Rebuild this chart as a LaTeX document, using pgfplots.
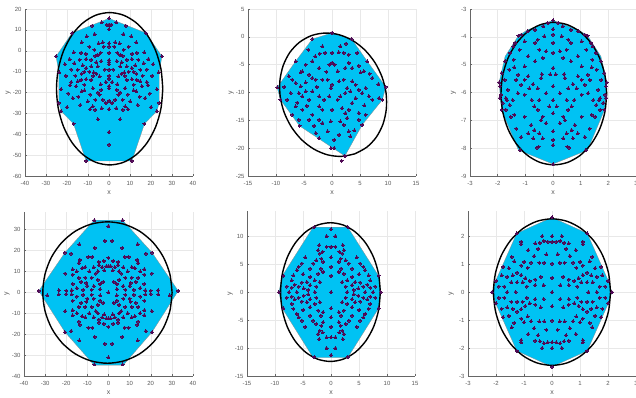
\documentclass[border=0pt]{standalone}
\usepackage{pgfplots}
\pgfplotsset{compat=1.18}
\usepackage{fontspec}
\setmainfont{Liberation Sans}
\definecolor{cyanf}{RGB}{0,194,243}
\definecolor{dotc}{RGB}{80,10,85}
\pgfplotsset{
 panel/.style={
  scale only axis, axis lines*=left, tick align=inside, major tick length=2bp,
  grid=major, grid style={draw=black!9, line width=0.4pt},
  axis line style={draw=black!60, line width=0.6pt},
  tick style={draw=black!60, line width=0.4pt},
  tick label style={font=\fontsize{6}{7}\selectfont, text=black!65},
  xticklabel style={yshift=-1.5bp},
  /pgf/number format/assume math mode=true,
  label style={font=\fontsize{7}{8}\selectfont, text=black!65},
  xlabel={x}, ylabel={y},
  xlabel style={at={(axis description cs:0.5,-0.1)}, anchor=center},
  ylabel style={at={(axis description cs:-0.1,0.5)}, anchor=center},
  anchor=south west,
 },
 hull/.style={fill=cyanf, draw=black!45, line width=0.3pt},
 pts/.style={only marks, mark=*, mark size=1.5bp, mark options={fill=dotc, draw=dotc, line width=0pt}},
 ell/.style={black, line width=1.4bp, smooth, mark=none},
}
\begin{document}
\begin{tikzpicture}
\path[use as bounding box] (0,0) rectangle (636bp,398bp);
% ---------------- panel 1
\begin{axis}[panel, at={(25bp,222bp)}, width=168bp, height=167bp,
 xmin=-40, xmax=40, ymin=-60, ymax=20, xtick={-40,-30,...,40}, ytick={-60,-50,...,20}]
\addplot[hull] coordinates {(0,15.5)(17.6,8.5)(25.2,-2.7)(23.9,-10.4)(23.9,-25)(22.8,-29)(16.9,-35)(10.9,-52.8)(-10.9,-52.8)(-16.9,-35)(-22.8,-29)(-23.9,-25)(-23.9,-10.4)(-25.2,-2.7)(-17.6,8.5)(0,15.5)};
\addplot[ell] coordinates {(25.6,-18.2)(24.74,-8.75)(22.21,0.05)(18.19,7.61)(12.95,13.41)(6.85,17.06)(0.3,18.3)(-6.25,17.06)(-12.35,13.41)(-17.59,7.61)(-21.61,0.05)(-24.14,-8.75)(-25.0,-18.2)(-24.14,-27.65)(-21.61,-36.45)(-17.59,-44.01)(-12.35,-49.81)(-6.25,-53.46)(0.3,-54.7)(6.85,-53.46)(12.95,-49.81)(18.19,-44.01)(22.21,-36.45)(24.74,-27.65)(25.6,-18.2)};
\addplot[pts] coordinates {(0,15.5)(0,12.5)(0,10.2)(0,3.5)(0,2)(0,-1)(0,-4.5)(0,-5.5)(0,-6.5)(0,-9)(0,-12)(0,-13.5)(0,-17)(0,-18)(0,-24)(0,-28)(0,-39)(0,-45)
(3.4,13.6)(1,12.5)(17.6,8.5)(25.2,-2.7)(6.9,8)(10.6,6.9)(8,12)(3,4)(5,3.5)(2.5,2)(9.3,2)(7,0.5)(13,4)(11,-1.5)(13.3,-1)(16.8,-0.8)(4,-1)(5.3,-2)(6.5,-2.5)(8.5,-4.3)(10.9,-4)(14,-4.3)(18.8,-4)(3.7,-5)(6,-5.5)(16.5,-6)(21,-6.5)(5.3,-7.5)(8.5,-7.5)(12.5,-7)(10.9,-8.3)(2,-9)(14.9,-9.1)(18,-9)(9.3,-10)(11.7,-10)(7.2,-10.4)(13,-11)(6,-11)(23.6,-10.4)(7.5,-12)(16,-12)(20.5,-12)(4.5,-12.3)(8.5,-14)(10.9,-13.6)(13.3,-14)(14.9,-14.7)(18,-15)(1.5,-15)(4,-16)(11.7,-16.3)(15.7,-17)(18.5,-16.5)(3.7,-18.7)(7.7,-18)(5.3,-20)(4.5,-21)(9,-21)(11.7,-19)(13,-19.5)(22.8,-18.4)(19.5,-20.5)(14.6,-22)(17.3,-22.7)(2.9,-23.5)(6.5,-23.5)(1.5,-25)(10.1,-24.3)(13.6,-26)(7.7,-26.7)(3.5,-27.5)(20,-27)(6.6,-28.3)(9,-28)(23.9,-25)(22.8,-29)(5.3,-32.8)(16.9,-35)(10.9,-52.8)
(-3.4,13.6)(-1,12.5)(-17.6,8.5)(-25.2,-2.7)(-6.9,8)(-10.6,6.9)(-8,12)(-3,4)(-5,3.5)(-2.5,2)(-9.3,2)(-7,0.5)(-13,4)(-11,-1.5)(-13.3,-1)(-16.8,-0.8)(-4,-1)(-5.3,-2)(-6.5,-2.5)(-8.5,-4.3)(-10.9,-4)(-14,-4.3)(-18.8,-4)(-3.7,-5)(-6,-5.5)(-16.5,-6)(-21,-6.5)(-5.3,-7.5)(-8.5,-7.5)(-12.5,-7)(-10.9,-8.3)(-2,-9)(-14.9,-9.1)(-18,-9)(-9.3,-10)(-11.7,-10)(-7.2,-10.4)(-13,-11)(-6,-11)(-23.6,-10.4)(-7.5,-12)(-16,-12)(-20.5,-12)(-4.5,-12.3)(-8.5,-14)(-10.9,-13.6)(-13.3,-14)(-14.9,-14.7)(-18,-15)(-1.5,-15)(-4,-16)(-11.7,-16.3)(-15.7,-17)(-18.5,-16.5)(-3.7,-18.7)(-7.7,-18)(-5.3,-20)(-4.5,-21)(-9,-21)(-11.7,-19)(-13,-19.5)(-22.8,-18.4)(-19.5,-20.5)(-14.6,-22)(-17.3,-22.7)(-2.9,-23.5)(-6.5,-23.5)(-1.5,-25)(-10.1,-24.3)(-13.6,-26)(-7.7,-26.7)(-3.5,-27.5)(-20,-27)(-6.6,-28.3)(-9,-28)(-23.9,-25)(-22.8,-29)(-5.3,-32.8)(-16.9,-35)(-10.9,-52.8)};
\end{axis}
% ---------------- panel 2
\begin{axis}[panel, at={(248bp,222bp)}, width=168bp, height=167bp,
 xmin=-15, xmax=15, ymin=-25, ymax=5, xtick={-15,-10,...,15}, ytick={-25,-20,...,5}]
\addplot[hull] coordinates {(0,0.7)(3.5,-0.4)(6.3,-4.4)(9.6,-9)(9,-11.3)(5.4,-15.8)(2.3,-21.4)(-5.8,-16)(-9.2,-11.3)(-9.8,-9.1)(-6.5,-4.4)(-3.5,-0.4)(0,0.7)};
\addplot[ell] coordinates {(4.07,-21.02)(6.20,-19.84)(7.92,-18.01)(9.11,-15.66)(9.70,-12.96)(9.65,-10.08)(8.94,-7.22)(7.64,-4.58)(5.84,-2.34)(3.65,-0.64)(1.22,0.39)(-1.27,0.68)(-3.67,0.22)(-5.80,-0.97)(-7.52,-2.79)(-8.71,-5.14)(-9.30,-7.85)(-9.25,-10.72)(-8.54,-13.58)(-7.24,-16.22)(-5.44,-18.47)(-3.25,-20.16)(-0.82,-21.19)(1.67,-21.48)(4.07,-21.02)};
\addplot[pts] coordinates {(0,0.7)(3.5,-0.4)(-3.5,-0.4)(-1.7,-1.7)(-1.25,-2.9)(-2.2,-3)(1.5,-1.7)(2.1,-2.9)(1.2,-2.8)(0,-2.9)(0,-4.7)(-0.5,-5)(0.5,-5)(4.5,-2.9)(6.3,-4.4)(-3.5,-4.4)(-4.7,-5)(-6.5,-4.4)(-2.3,-5.6)(2.4,-5.6)(3,-4.7)(3.6,-5.6)(4.8,-5.2)(-5.3,-6.2)(-5.6,-6.4)(-4.1,-6.8)(-3.5,-7.4)(-2.9,-7.7)(-1.7,-7.7)(-0.8,-7.7)(0,-8.6)(-0.2,-9.2)(1.25,-8)(2.1,-7.7)(3.6,-8)(4.2,-8.6)(5.1,-6.4)(5.7,-6.2)(7.2,-7.4)(-7.7,-7.1)(-7.1,-7.7)(-6.5,-8.3)(-5.6,-8.9)(-4.7,-8.2)(-5.9,-10.1)(-5.3,-10.7)(-4.7,-9.8)(-4.1,-11.3)(-7.4,-10.1)(-8,-11.3)(-3.5,-9.8)(-2.3,-10.7)(-1.4,-11.3)(-0.5,-10.7)(1,-11.3)(1.5,-10.7)(2.4,-10.1)(3.3,-9.8)(4.8,-9.5)(5.4,-10.1)(6,-9.2)(6.6,-10.7)(7.2,-11.3)(8.4,-11)(9.6,-9)(9,-11.3)(4.2,-11)(3.6,-11.9)(-6.5,-12.5)(-5.3,-13.1)(-2.3,-12.5)(-1.7,-13.1)(0,-13.1)(1.8,-12.8)(2.4,-13.7)(3,-13.1)(4.8,-13.7)(6,-14)(-7.1,-14)(-5.9,-14.9)(-3.5,-14)(-4.1,-14.9)(-2.3,-14.9)(-1.7,-15.5)(-0.2,-15.2)(1.5,-15.2)(2.1,-15.8)(2.7,-14.6)(4.8,-14.9)(5.4,-15.8)(-5.8,-16)(-2.9,-17.3)(-2.3,-18.2)(-0.8,-17)(0.4,-18.5)(1.25,-17.6)(3,-17)(3.3,-17.9)(-0.2,-20)(0.4,-20)(2.3,-21.4)(1.7,-22.3)(-9.8,-9.1)(-9.2,-11.3)(-3,-3.5)(3,-3.2)(6.7,-6.6)(8.3,-8.5)(-8.5,-9)(-6.2,-11.8)(5.8,-12.3)(-1,-6.3)(1,-6.2)(-2.7,-9)(2.7,-9.2)(-4.5,-12.4)(-3.2,-16)(4,-16.8)(-4.2,-2.3)(2.5,-1.2)};
\end{axis}
% ---------------- panel 3
\begin{axis}[panel, at={(470bp,222bp)}, width=166bp, height=167bp,
 xmin=-3, xmax=3, ymin=-9, ymax=-3, xtick={-3,...,3}, ytick={-9,...,-3}]
\addplot[hull] coordinates {(0,-3.41)(0.92,-3.75)(1.25,-3.96)(1.73,-4.7)(1.95,-5.64)(1.86,-6.63)(1.25,-8.07)(0,-8.57)(-1.25,-8.07)(-1.86,-6.63)(-1.95,-5.64)(-1.73,-4.7)(-1.25,-3.96)(-0.92,-3.75)(0,-3.41)};
\addplot[ell] coordinates {(1.94,-6.04)(1.875,-5.377)(1.684,-4.76)(1.38,-4.23)(0.985,-3.823)(0.525,-3.567)(0.03,-3.48)(-0.465,-3.567)(-0.925,-3.823)(-1.32,-4.23)(-1.624,-4.76)(-1.815,-5.377)(-1.88,-6.04)(-1.815,-6.703)(-1.624,-7.32)(-1.32,-7.85)(-0.925,-8.257)(-0.465,-8.513)(0.03,-8.6)(0.525,-8.513)(0.985,-8.257)(1.38,-7.85)(1.684,-7.32)(1.875,-6.703)(1.94,-6.04)};
\addplot[pts] coordinates {(0,-3.41)(0,-3.72)(0,-3.92)(0,-4.22)(0,-4.58)(0,-5.12)(0,-5.78)(0,-6.27)(0,-6.75)(0,-7.4)(0,-7.7)(0,-7.89)(0,-8.57)
(0.19,-3.5)(0.35,-3.62)(0.65,-3.75)(0.92,-3.8)(1.25,-3.96)(1.43,-4.34)(1.73,-4.88)(1.86,-5.3)(1.92,-5.78)(1.92,-6.2)(1.86,-6.62)(1.67,-6.27)(0.9,-4.7)(0.65,-4.88)(0.37,-4.76)(1.03,-5.06)(1.4,-5.1)(1.26,-5.36)(1.03,-5.55)(0.72,-5.7)(0.85,-5.85)(0.41,-5.34)(0.49,-6.27)(0.67,-6.5)(0.37,-6.87)(0.25,-7.1)(0.79,-7.17)(0.9,-7.47)(0.72,-7.65)(0.49,-7.47)(0.37,-7.65)(0.52,-7.95)(1.4,-6.8)(1.57,-6.45)(1.7,-6.2)(1.33,-7.3)(1.15,-7.6)(1.18,-8.07)(1.63,-5.9)(1.75,-5.55)(1.58,-5.18)(1.42,-4.82)(1.21,-4.46)(1.03,-4.16)(0.65,-4.22)(0.49,-4.46)(0.25,-4.52)(0.31,-3.98)(0.55,-4.1)(1.15,-3.92)(1.37,-4.22)(1.54,-4.58)(1.88,-6.08)(1.82,-6.38)(1.7,-6.62)(1.52,-6.87)(1.46,-6.27)(1.27,-6.03)(1.03,-6.08)(1.15,-5.72)(1.33,-5.55)(0.9,-5.42)(0.55,-5.85)(0.43,-5.48)(0.25,-6.03)(0.13,-6.5)(0.43,-7.0)(0.67,-7.35)(1.03,-6.87)(0.55,-6.62)(0.77,-6.27)(1.95,-5.64)(0.1,-5.35)(0.58,-7.98)
(-0.19,-3.5)(-0.35,-3.62)(-0.65,-3.75)(-0.92,-3.8)(-1.25,-3.96)(-1.43,-4.34)(-1.73,-4.88)(-1.86,-5.3)(-1.92,-5.78)(-1.92,-6.2)(-1.86,-6.62)(-1.67,-6.27)(-0.9,-4.7)(-0.65,-4.88)(-0.37,-4.76)(-1.03,-5.06)(-1.4,-5.1)(-1.26,-5.36)(-1.03,-5.55)(-0.72,-5.7)(-0.85,-5.85)(-0.41,-5.34)(-0.49,-6.27)(-0.67,-6.5)(-0.37,-6.87)(-0.25,-7.1)(-0.79,-7.17)(-0.9,-7.47)(-0.72,-7.65)(-0.49,-7.47)(-0.37,-7.65)(-0.52,-7.95)(-1.4,-6.8)(-1.57,-6.45)(-1.7,-6.2)(-1.33,-7.3)(-1.15,-7.6)(-1.18,-8.07)(-1.63,-5.9)(-1.75,-5.55)(-1.58,-5.18)(-1.42,-4.82)(-1.21,-4.46)(-1.03,-4.16)(-0.65,-4.22)(-0.49,-4.46)(-0.25,-4.52)(-0.31,-3.98)(-0.55,-4.1)(-1.15,-3.92)(-1.37,-4.22)(-1.54,-4.58)(-1.88,-6.08)(-1.82,-6.38)(-1.7,-6.62)(-1.52,-6.87)(-1.46,-6.27)(-1.27,-6.03)(-1.03,-6.08)(-1.15,-5.72)(-1.33,-5.55)(-0.9,-5.42)(-0.55,-5.85)(-0.43,-5.48)(-0.25,-6.03)(-0.13,-6.5)(-0.43,-7.0)(-0.67,-7.35)(-1.03,-6.87)(-0.55,-6.62)(-0.77,-6.27)(-1.95,-5.64)(-0.1,-5.35)(-0.58,-7.98)};
\end{axis}
% ---------------- panel 4
\begin{axis}[panel, at={(24bp,22bp)}, width=169bp, height=164bp,
 xmin=-40, xmax=40, ymin=-40, ymax=38.4, xtick={-40,-30,...,40}, ytick={-40,-30,...,30}]
\addplot[hull] coordinates {(-6.8,34.5)(6.7,34.5)(20.6,19)(33,0.7)(20.6,-19)(7,-34.8)(-6.8,-34.8)(-20.6,-19)(-33,0.7)(-20.6,19)(-6.8,34.5)};
\addplot[ell] coordinates {(30.1,-0.1)(29.06,8.65)(26.0,16.8)(21.13,23.8)(14.8,29.17)(7.43,32.55)(-0.5,33.7)(-8.43,32.55)(-15.8,29.17)(-22.13,23.8)(-27.0,16.8)(-30.06,8.65)(-31.1,-0.1)(-30.06,-8.85)(-27.0,-17.0)(-22.13,-24.0)(-15.8,-29.37)(-8.43,-32.75)(-0.5,-33.9)(7.43,-32.75)(14.8,-29.37)(21.13,-24.0)(26.0,-17.0)(29.06,-8.85)(30.1,-0.1)};
\addplot[pts] coordinates {(0,31.7)(0,-31.1)(0,16.5)(0,-16.5)(0,0)(0,12.5)(0,-12.5)(33,0.7)(-33,0.7)(29,-1.5)(-29,-1.5)
(6.7,34.5)(1.7,24.6)(6.5,21.3)(13.8,23)(20.6,19)(17.7,18.5)(7.6,16.9)(9.5,16.9)(4.5,14.5)(2.2,15)(13.5,15.5)(14,14)(17,11)(17,8.5)(20.5,9)(23.5,1)(4,4)(5,6)(8,7)(11,7)(13,5)(15,2)(10,3)(12,1.2)(8,1.2)(7,3)(17,4)(17.5,1)(20,0.8)(5,10)(3,12)(7,12)(9,10)(6,9)(4,1.5)(2.5,5)(11,12)(12.5,11.5)(15,10)(2,10.5)(1,12.5)(4.5,13)(10.5,4.5)(14,7)
(-6.7,34.5)(-1.7,24.6)(-6.5,21.3)(-13.8,23)(-20.6,19)(-17.7,18.5)(-7.6,16.9)(-9.5,16.9)(-4.5,14.5)(-2.2,15)(-13.5,15.5)(-14,14)(-17,11)(-17,8.5)(-20.5,9)(-23.5,1)(-4,4)(-5,6)(-8,7)(-11,7)(-13,5)(-15,2)(-10,3)(-12,1.2)(-8,1.2)(-7,3)(-17,4)(-17.5,1)(-20,0.8)(-5,10)(-3,12)(-7,12)(-9,10)(-6,9)(-4,1.5)(-2.5,5)(-11,12)(-12.5,11.5)(-15,10)(-2,10.5)(-1,12.5)(-4.5,13)(-10.5,4.5)(-14,7)
(6.7,-34.5)(1.7,-24.6)(6.5,-21.3)(13.8,-23)(20.6,-19)(17.7,-18.5)(7.6,-16.9)(9.5,-16.9)(4.5,-14.5)(2.2,-15)(13.5,-15.5)(14,-14)(17,-11)(17,-8.5)(20.5,-9)(23.5,-1)(4,-4)(5,-6)(8,-7)(11,-7)(13,-5)(15,-2)(10,-3)(12,-1.2)(8,-1.2)(7,-3)(17,-4)(17.5,-1)(20,-0.8)(5,-10)(3,-12)(7,-12)(9,-10)(6,-9)(4,-1.5)(2.5,-5)(11,-12)(12.5,-11.5)(15,-10)(2,-10.5)(1,-12.5)(4.5,-13)(10.5,-4.5)(14,-7)
(-6.7,-34.5)(-1.7,-24.6)(-6.5,-21.3)(-13.8,-23)(-20.6,-19)(-17.7,-18.5)(-7.6,-16.9)(-9.5,-16.9)(-4.5,-14.5)(-2.2,-15)(-13.5,-15.5)(-14,-14)(-17,-11)(-17,-8.5)(-20.5,-9)(-23.5,-1)(-4,-4)(-5,-6)(-8,-7)(-11,-7)(-13,-5)(-15,-2)(-10,-3)(-12,-1.2)(-8,-1.2)(-7,-3)(-17,-4)(-17.5,-1)(-20,-0.8)(-5,-10)(-3,-12)(-7,-12)(-9,-10)(-6,-9)(-4,-1.5)(-2.5,-5)(-11,-12)(-12.5,-11.5)(-15,-10)(-2,-10.5)(-1,-12.5)(-4.5,-13)(-10.5,-4.5)(-14,-7)};
\end{axis}
% ---------------- panel 5
\begin{axis}[panel, at={(247bp,22bp)}, width=168bp, height=165bp,
 xmin=-15, xmax=15, ymin=-15, ymax=14.5, xtick={-15,-10,...,15}, ytick={-15,-10,...,10}]
\addplot[hull] coordinates {(-3.2,11.6)(3,11.6)(8.5,2.9)(8.9,0)(8.5,-2.9)(3,-11.7)(-3.2,-11.7)(-8.7,-2.9)(-9.3,0)(-8.7,2.9)(-3.2,11.6)};
\addplot[ell] coordinates {(8.8,0)(8.5,3.21)(7.61,6.2)(6.19,8.77)(4.35,10.74)(2.21,11.98)(-0.1,12.4)(-2.41,11.98)(-4.55,10.74)(-6.39,8.77)(-7.81,6.2)(-8.7,3.21)(-9.0,0)(-8.7,-3.21)(-7.81,-6.2)(-6.39,-8.77)(-4.55,-10.74)(-2.41,-11.98)(-0.1,-12.4)(2.21,-11.98)(4.35,-10.74)(6.19,-8.77)(7.61,-6.2)(8.5,-3.21)(8.8,0)};
\addplot[pts] coordinates {(0,11.25)(0,-11.25)(0,8.1)(0,-8.1)(0,6.2)(0,-6.2)(0,4.5)(0,-4.5)(0,2.9)(0,-2.9)(0,0)(8.9,0)(-9.3,0)(7.5,0)(-7.5,0)(6.1,0)(-6.1,0)(2.9,0)(-2.9,0)
(0.8,10)(2,6.9)(2.3,7.5)(2.1,8.4)(1.7,6)(1.4,5.4)(2.6,5.7)(3.2,5.1)(1.8,4.2)(4.6,6.2)(5.8,4.5)(6.1,3.9)(5.2,5.1)(3.75,4.2)(7,2.1)(6.7,3)(8.5,2.9)(3.75,2.7)(2.9,2.1)(3.75,1.25)(4.3,1.8)(5.2,1.7)(5.8,1)(4.9,0.65)(4.05,0.4)(7,0.8)(7.9,1)(2,1.8)(2.6,1)(0.8,8.1)(1.4,3.6)(2.3,3.3)(3,11.6)(1.5,7.2)(6.5,1.3)(5,3.2)
(-0.8,10)(-2,6.9)(-2.3,7.5)(-2.1,8.4)(-1.7,6)(-1.4,5.4)(-2.6,5.7)(-3.2,5.1)(-1.8,4.2)(-4.6,6.2)(-5.8,4.5)(-6.1,3.9)(-5.2,5.1)(-3.75,4.2)(-7,2.1)(-6.7,3)(-8.5,2.9)(-3.75,2.7)(-2.9,2.1)(-3.75,1.25)(-4.3,1.8)(-5.2,1.7)(-5.8,1)(-4.9,0.65)(-4.05,0.4)(-7,0.8)(-7.9,1)(-2,1.8)(-2.6,1)(-0.8,8.1)(-1.4,3.6)(-2.3,3.3)(-3,11.6)(-1.5,7.2)(-6.5,1.3)(-5,3.2)
(0.8,-10)(2,-6.9)(2.3,-7.5)(2.1,-8.4)(1.7,-6)(1.4,-5.4)(2.6,-5.7)(3.2,-5.1)(1.8,-4.2)(4.6,-6.2)(5.8,-4.5)(6.1,-3.9)(5.2,-5.1)(3.75,-4.2)(7,-2.1)(6.7,-3)(8.5,-2.9)(3.75,-2.7)(2.9,-2.1)(3.75,-1.25)(4.3,-1.8)(5.2,-1.7)(5.8,-1)(4.9,-0.65)(4.05,-0.4)(7,-0.8)(7.9,-1)(2,-1.8)(2.6,-1)(0.8,-8.1)(1.4,-3.6)(2.3,-3.3)(3,-11.6)(1.5,-7.2)(6.5,-1.3)(5,-3.2)
(-0.8,-10)(-2,-6.9)(-2.3,-7.5)(-2.1,-8.4)(-1.7,-6)(-1.4,-5.4)(-2.6,-5.7)(-3.2,-5.1)(-1.8,-4.2)(-4.6,-6.2)(-5.8,-4.5)(-6.1,-3.9)(-5.2,-5.1)(-3.75,-4.2)(-7,-2.1)(-6.7,-3)(-8.5,-2.9)(-3.75,-2.7)(-2.9,-2.1)(-3.75,-1.25)(-4.3,-1.8)(-5.2,-1.7)(-5.8,-1)(-4.9,-0.65)(-4.05,-0.4)(-7,-0.8)(-7.9,-1)(-2,-1.8)(-2.6,-1)(-0.8,-8.1)(-1.4,-3.6)(-2.3,-3.3)(-3,-11.6)(-1.5,-7.2)(-6.5,-1.3)(-5,-3.2)};
\end{axis}
% ---------------- panel 6
\begin{axis}[panel, at={(468bp,22bp)}, width=168bp, height=165bp,
 xmin=-3, xmax=3, ymin=-3, ymax=2.9, xtick={-3,...,3}, ytick={-3,...,2}]
\addplot[hull] coordinates {(0,2.67)(1.26,2.1)(2,0.43)(2.14,0)(2,-0.43)(1.26,-2.1)(0,-2.67)(-1.26,-2.1)(-2,-0.43)(-2.14,0)(-2,0.43)(-1.26,2.1)(0,2.67)};
\addplot[ell] coordinates {(2.09,0)(2.019,0.678)(1.81,1.31)(1.478,1.852)(1.045,2.269)(0.541,2.531)(0,2.62)(-0.541,2.531)(-1.045,2.269)(-1.478,1.852)(-1.81,1.31)(-2.019,0.678)(-2.09,0)(-2.019,-0.678)(-1.81,-1.31)(-1.478,-1.852)(-1.045,-2.269)(-0.541,-2.531)(0,-2.62)(0.541,-2.531)(1.045,-2.269)(1.478,-1.852)(1.81,-1.31)(2.019,-0.678)(2.09,0)};
\addplot[pts] coordinates {(0,2.67)(0,-2.67)(0,2.0)(0,-2.0)(0,1.8)(0,-1.8)(0,1.02)(0,-1.02)(0,0.51)(0,-0.51)(0,0)(2.14,0)(-2.14,0)(1.6,0)(-1.6,0)(1.3,0)(-1.3,0)
(1.26,2.1)(0.35,2.0)(0.29,1.83)(0.43,1.76)(0.6,1.74)(1.1,1.8)(1.1,1.72)(0.85,1.5)(0.64,1.29)(0.45,1.05)(0.28,1.05)(1.0,1.08)(1.1,0.95)(0.87,0.87)(1.44,1.26)(1.35,1.1)(1.54,0.85)(1.75,0.9)(1.8,0.6)(1.6,0.55)(1.4,0.6)(1.25,0.7)(1.1,0.61)(0.95,0.5)(0.8,0.4)(0.6,0.45)(0.4,0.55)(0.3,0.25)(0.6,0.25)(0.9,0.2)(1.05,0.35)(1.25,0.35)(1.45,0.35)(1.7,0.2)(1.9,0.2)(2.0,0.4)(0.2,1.35)(0.5,1.55)(0.15,1.8)(0.75,1.05)
(-1.26,2.1)(-0.35,2.0)(-0.29,1.83)(-0.43,1.76)(-0.6,1.74)(-1.1,1.8)(-1.1,1.72)(-0.85,1.5)(-0.64,1.29)(-0.45,1.05)(-0.28,1.05)(-1.0,1.08)(-1.1,0.95)(-0.87,0.87)(-1.44,1.26)(-1.35,1.1)(-1.54,0.85)(-1.75,0.9)(-1.8,0.6)(-1.6,0.55)(-1.4,0.6)(-1.25,0.7)(-1.1,0.61)(-0.95,0.5)(-0.8,0.4)(-0.6,0.45)(-0.4,0.55)(-0.3,0.25)(-0.6,0.25)(-0.9,0.2)(-1.05,0.35)(-1.25,0.35)(-1.45,0.35)(-1.7,0.2)(-1.9,0.2)(-2.0,0.4)(-0.2,1.35)(-0.5,1.55)(-0.15,1.8)(-0.75,1.05)
(1.26,-2.1)(0.35,-2.0)(0.29,-1.83)(0.43,-1.76)(0.6,-1.74)(1.1,-1.8)(1.1,-1.72)(0.85,-1.5)(0.64,-1.29)(0.45,-1.05)(0.28,-1.05)(1.0,-1.08)(1.1,-0.95)(0.87,-0.87)(1.44,-1.26)(1.35,-1.1)(1.54,-0.85)(1.75,-0.9)(1.8,-0.6)(1.6,-0.55)(1.4,-0.6)(1.25,-0.7)(1.1,-0.61)(0.95,-0.5)(0.8,-0.4)(0.6,-0.45)(0.4,-0.55)(0.3,-0.25)(0.6,-0.25)(0.9,-0.2)(1.05,-0.35)(1.25,-0.35)(1.45,-0.35)(1.7,-0.2)(1.9,-0.2)(2.0,-0.4)(0.2,-1.35)(0.5,-1.55)(0.15,-1.8)(0.75,-1.05)
(-1.26,-2.1)(-0.35,-2.0)(-0.29,-1.83)(-0.43,-1.76)(-0.6,-1.74)(-1.1,-1.8)(-1.1,-1.72)(-0.85,-1.5)(-0.64,-1.29)(-0.45,-1.05)(-0.28,-1.05)(-1.0,-1.08)(-1.1,-0.95)(-0.87,-0.87)(-1.44,-1.26)(-1.35,-1.1)(-1.54,-0.85)(-1.75,-0.9)(-1.8,-0.6)(-1.6,-0.55)(-1.4,-0.6)(-1.25,-0.7)(-1.1,-0.61)(-0.95,-0.5)(-0.8,-0.4)(-0.6,-0.45)(-0.4,-0.55)(-0.3,-0.25)(-0.6,-0.25)(-0.9,-0.2)(-1.05,-0.35)(-1.25,-0.35)(-1.45,-0.35)(-1.7,-0.2)(-1.9,-0.2)(-2.0,-0.4)(-0.2,-1.35)(-0.5,-1.55)(-0.15,-1.8)(-0.75,-1.05)};
\end{axis}
\end{tikzpicture}
\end{document}
